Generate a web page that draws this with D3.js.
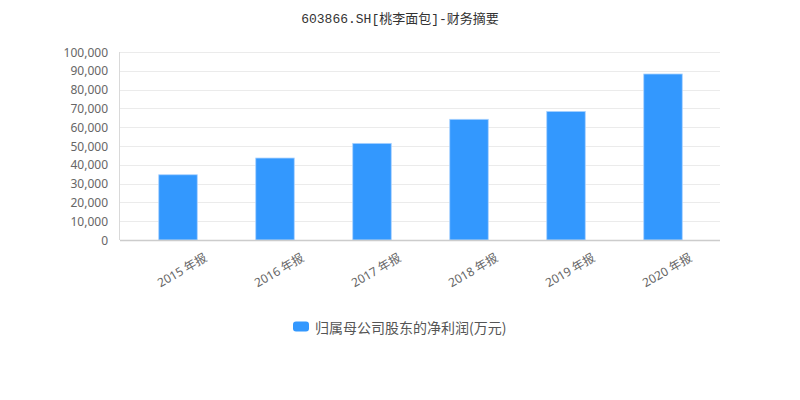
<!DOCTYPE html>
<html><head><meta charset="utf-8">
<script src="https://cdn.jsdelivr.net/npm/d3@7/dist/d3.min.js"></script>
<style>body{margin:0;background:#fff}</style>
</head><body>
<svg id="c" width="800" height="400"></svg>
<script>
const title = "603866.SH[桃李面包]-财务摘要";
const categories = ["2015 年报","2016 年报","2017 年报","2018 年报","2019 年报","2020 年报"];
const seriesName = "归属母公司股东的净利润(万元)";
const values = [34700, 43600, 51400, 64200, 68400, 88300];
const yTicks = [0,10000,20000,30000,40000,50000,60000,70000,80000,90000,100000];

const svg = d3.select("#c");
const L = 120, R = 720, T = 52, B = 240;
const x = d3.scaleBand().domain(categories).range([129.5, 711.5]).paddingInner(0).paddingOuter(0);
const y = d3.scaleLinear().domain([0, 100000]).range([B, T]);

svg.append("text").attr("x", 400).attr("y", 19).attr("text-anchor","middle")
  .attr("dominant-baseline","central")
  .style("font-family","'Liberation Mono','DejaVu Sans Mono','Noto Sans CJK SC',monospace")
  .style("font-size","13px").attr("fill","#333").text(title);

// grid
svg.append("g").selectAll("line").data(yTicks.filter(d=>d>0)).join("line")
  .attr("x1", L).attr("x2", R).attr("y1", d=>Math.round(y(d))+0.5).attr("y2", d=>Math.round(y(d))+0.5)
  .attr("stroke","#ebebeb").attr("stroke-width",1);

// y labels
const fmt = d3.format(",");
svg.append("g").selectAll("text").data(yTicks).join("text")
  .attr("x", 108).attr("y", d=>y(d)).attr("text-anchor","end").attr("dominant-baseline","central")
  .style("font-family","'Noto Sans','Noto Sans CJK SC',sans-serif").style("font-size","12px")
  .attr("fill","#666").text(d=>fmt(d));

// left axis line
svg.append("line").attr("x1",119.5).attr("x2",119.5).attr("y1",T).attr("y2",B).attr("stroke","#d9d9d9");

// bars
const bw = 38.5;
svg.append("g").selectAll("rect").data(values).join("rect")
  .attr("x",(d,i)=>x(categories[i]) + x.bandwidth()/2 - bw/2)
  .attr("y", d=>y(d)).attr("width", bw).attr("height", d=>B - y(d))
  .attr("fill","#3398fe").attr("stroke","#a9d2ff").attr("stroke-width",0.8);

// bottom axis
svg.append("line").attr("x1",L).attr("x2",R).attr("y1",B+0.5).attr("y2",B+0.5).attr("stroke","#cccccc").attr("stroke-width",1.5);

// x labels
svg.append("g").selectAll("text").data(categories).join("text")
  .attr("transform", d=>`translate(${x(d)+x.bandwidth()/2+4},270) rotate(-30)`)
  .attr("text-anchor","middle").attr("dominant-baseline","central")
  .style("font-family","'Noto Sans','Noto Sans CJK SC',sans-serif").style("font-size","12px")
  .attr("fill","#666").text(d=>d);

// legend
svg.append("rect").attr("x",293).attr("y",321.5).attr("width",16).attr("height",10).attr("rx",3)
  .attr("fill","#3398fe");
svg.append("text").attr("x",315).attr("y",327).attr("dominant-baseline","central")
  .style("font-family","'Noto Sans CJK SC','Noto Sans',sans-serif").style("font-size","14px")
  .attr("fill","#555").text(seriesName);
</script>
</body></html>
